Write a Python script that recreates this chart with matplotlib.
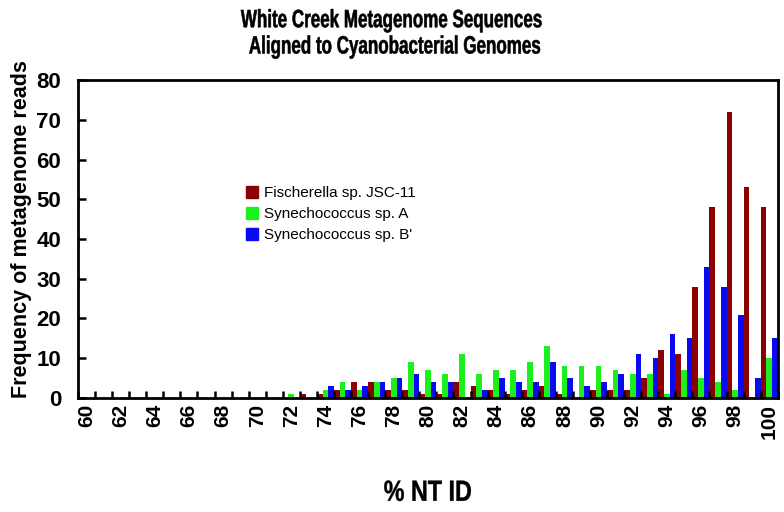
import matplotlib
matplotlib.use("Agg")
import matplotlib.pyplot as plt
from matplotlib.patches import Patch
from matplotlib.patheffects import AbstractPathEffect
from matplotlib.transforms import Affine2D
import numpy as np

categories = list(range(60, 101))
fischerella = [0]*12 + [0, 1, 1, 2, 4, 4, 2, 2, 1, 1, 4, 3, 2, 1, 2, 3, 1, 0, 2, 2, 2, 5, 12, 11, 28, 48, 72, 53, 48]
syn_a = [0]*12 + [1, 0, 2, 4, 2, 4, 5, 9, 7, 6, 11, 6, 7, 7, 9, 13, 8, 8, 8, 7, 6, 6, 1, 7, 5, 4, 2, 0, 10]
syn_b = [0]*12 + [0, 0, 3, 2, 3, 4, 5, 6, 4, 4, 0, 2, 5, 4, 4, 9, 5, 3, 4, 6, 11, 10, 16, 15, 33, 28, 21, 5, 15]
series_names = ["Fischerella sp. JSC-11", "Synechococcus sp. A", "Synechococcus sp. B'"]
colors = ["#8b0000", "#1cf01c", "#0a0af2"]
yticks = list(range(0, 81, 10))

base = "Liberation Sans"


class Condense(AbstractPathEffect):
    """Narrow the glyphs of a text line around its own centre (condensed face)."""
    def __init__(self, sx, lw=0.0):
        super().__init__()
        self.sx = sx
        self.lw = lw

    def draw_path(self, renderer, gc, tpath, affine, rgbFace=None):
        ext = tpath.get_extents()
        cx = (ext.x0 + ext.x1) / 2
        t = Affine2D().translate(-cx, 0).scale(self.sx, 1).translate(cx, 0) + affine
        gc0 = renderer.new_gc()
        gc0.copy_properties(gc)
        if self.lw > 0 and rgbFace is not None:
            gc0.set_linewidth(self.lw)
            gc0.set_foreground(rgbFace)
        renderer.draw_path(gc0, tpath, t, rgbFace)
        gc0.restore()


fig = plt.figure(figsize=(7.84, 5.12), dpi=100)
ax = fig.add_axes([0.0995, 0.2227, 0.8925, 0.6210])

x = np.arange(len(categories))
w = 1/3
for k, (vals, c, n) in enumerate(zip([fischerella, syn_a, syn_b], colors, series_names)):
    ax.bar(x + (k - 1) * w, vals, width=w, color=c, label=n, linewidth=0)

ax.set_xlim(-0.5, len(categories) - 0.5)
ax.set_ylim(0, 80)
ax.set_yticks(yticks)
ax.set_yticklabels([str(v) for v in yticks], fontfamily=base, fontweight="bold", fontsize=16)
ax.tick_params(axis="y", direction="in", length=6, width=1.8, pad=12)

ev = [i for i, c in enumerate(categories) if c % 2 == 0]
ax.set_xticks(ev)
ax.set_xticklabels([str(categories[i]) for i in ev], rotation=90, fontfamily=base,
                   fontweight="bold", fontsize=15)
ax.tick_params(axis="x", which="major", length=0, pad=4)
ax.set_xticks(np.arange(-0.5, len(categories), 1), minor=True)
ax.tick_params(axis="x", which="minor", direction="in", length=5, width=1.8)

for s in ax.spines.values():
    s.set_linewidth(2)

ax.set_ylabel("Frequency of metagenome reads", fontfamily=base, fontweight="bold", fontsize=15.5)
ax.yaxis.set_label_coords(-0.066, 0.53)
xl = ax.set_xlabel("% NT ID", fontfamily=base, fontweight="bold", fontsize=21, labelpad=29)
xl.set_path_effects([Condense(0.8, 0.3)])

title = fig.text(0.5, 0.984, "White Creek Metagenome Sequences\n Aligned to Cyanobacterial Genomes",
                 ha="center", va="top", fontfamily=base, fontweight="bold", fontsize=18, linespacing=1.12)
title.set_path_effects([Condense(0.68, 0.4)])

handles = [Patch(color=c) for c in colors]
ax.legend(handles, series_names, loc="upper left", bbox_to_anchor=(0.22, 0.71), frameon=False,
          prop={"family": base, "size": 11}, handlelength=0.8, handleheight=0.8,
          handletextpad=0.4, labelspacing=0.45)

fig.savefig("out.png", dpi=100)
